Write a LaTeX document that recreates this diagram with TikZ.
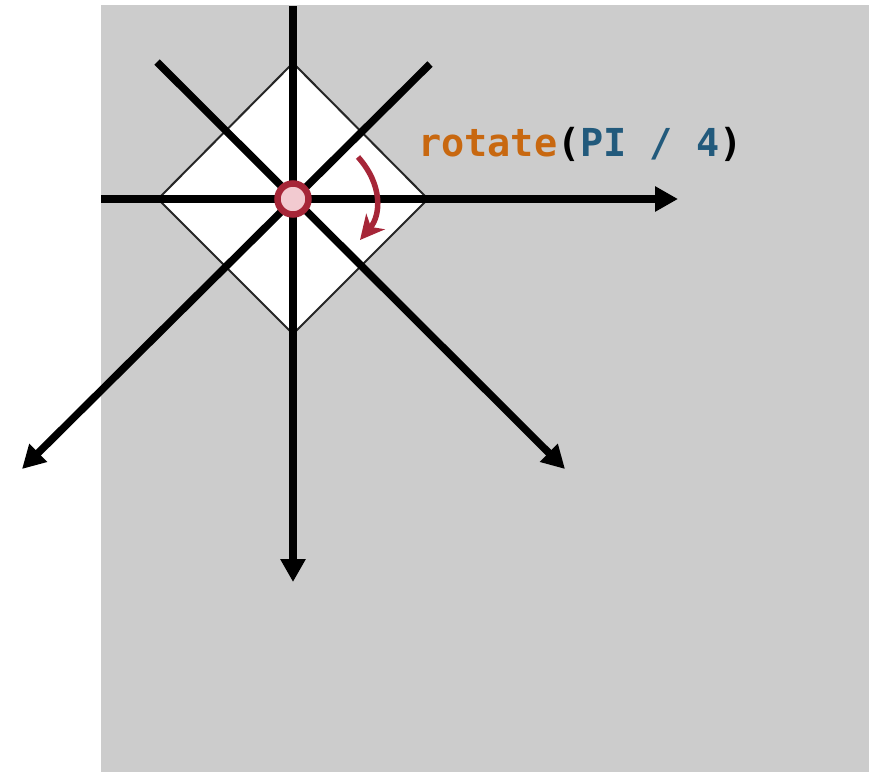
\documentclass[tikz,border=0pt]{standalone}
\usepackage{fontspec}
\newfontfamily\codefont{DejaVu Sans Mono}
\usetikzlibrary{arrows.meta}
\definecolor{bggray}{RGB}{204,204,204}
\definecolor{codeorange}{RGB}{200,104,16}
\definecolor{codeblue}{RGB}{34,90,124}
\definecolor{pivotred}{RGB}{166,38,56}
\definecolor{pivotpink}{RGB}{242,202,208}
\tikzset{
  axis/.style={line width=7.5pt,-{Triangle[length=23pt,width=24pt]}},
  rotarrow/.style={pivotred,line width=5.5pt,-{Stealth[length=24pt,width=24pt,inset=7pt]}},
}
\begin{document}
\begin{tikzpicture}[x=1pt,y=-1pt]
\useasboundingbox (0,0) rectangle (882,772);
\fill[bggray] (101,5) rectangle (869,772);
\coordinate (o) at (293,199);
\coordinate (dT) at (293,63);
\coordinate (dR) at (428,199);
\coordinate (dB) at (293,334);
\coordinate (dL) at (158,199);
\draw[fill=white,draw=black!85,line width=2pt] (dT) -- (dR) -- (dB) -- (dL) -- cycle;
\coordinate (hS) at (101,199);
\coordinate (hE) at (678,199);
\coordinate (vS) at (293,6);
\coordinate (vE) at (293,582);
\coordinate (d1S) at (157,62);
\coordinate (d1E) at (565,469);
\coordinate (d2S) at (430,64);
\coordinate (d2E) at (22,469);
\draw[axis] (hS) -- (hE);
\draw[axis] (vS) -- (vE);
\draw[axis] (d1S) -- (d1E);
\draw[axis] (d2S) -- (d2E);
\node[circle,draw=pivotred,fill=pivotpink,line width=6.5pt,minimum size=31pt,inner sep=0pt] (pivot) at (o) {};
\coordinate (rS) at (358,157);
\coordinate (rE) at (360,240);
\draw[rotarrow] (rS) .. controls (383,185) and (381,215) .. (rE);
\node[anchor=base west,inner sep=0pt,font=\codefont\bfseries\fontsize{38.5}{40}\selectfont] (label) at (418,156) {\textcolor{codeorange}{rotate}(\textcolor{codeblue}{PI / 4})};
\end{tikzpicture}
\end{document}
